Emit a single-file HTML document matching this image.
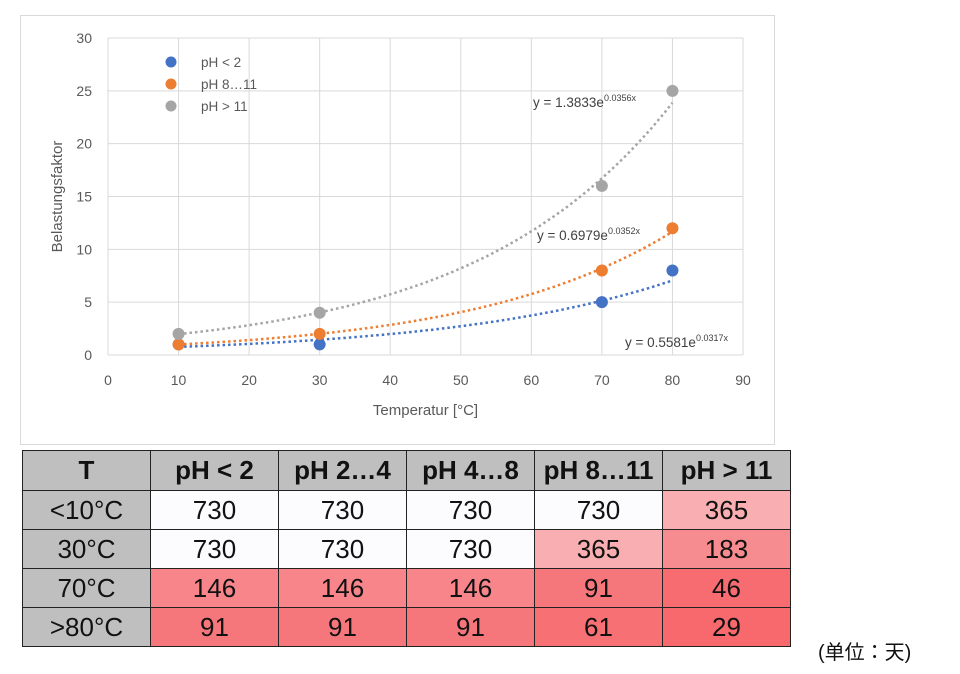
<!DOCTYPE html>
<html><head><meta charset="utf-8"><style>
body{margin:0;width:960px;height:674px;background:#fff;overflow:hidden;font-family:"Liberation Sans","Noto Sans CJK JP",sans-serif;position:relative}
#chart{position:absolute;left:0;top:0}
table{position:absolute;left:22px;top:450px;border-collapse:collapse;font-family:"Liberation Sans Narrow","Liberation Sans",sans-serif}
td{border:1.5px solid #222;width:127px;height:38px;text-align:center;font-size:26px;color:#111;padding:0}
th{border:1.5px solid #222;height:39px;background:#bfbfbf;font-size:26px;font-weight:bold;color:#111;padding:0}
td.h{background:#bfbfbf;width:127px}
#unit{position:absolute;left:818px;top:636px;font-size:20px;color:#111;font-family:"Liberation Sans","Noto Sans CJK JP",sans-serif}
</style></head><body>
<svg id="chart" width="960" height="450"></svg>
<table>
<tr><th>T</th><th>pH &lt; 2</th><th>pH 2…4</th><th>pH 4…8</th><th>pH 8…11</th><th>pH &gt; 11</th></tr>
<tr><td class="h">&lt;10°C</td><td style="background:#fcfcff">730</td><td style="background:#fcfcff">730</td><td style="background:#fcfcff">730</td><td style="background:#fcfcff">730</td><td style="background:#f9aeb1">365</td></tr>
<tr><td class="h">30°C</td><td style="background:#fcfcff">730</td><td style="background:#fcfcff">730</td><td style="background:#fcfcff">730</td><td style="background:#f9aeb1">365</td><td style="background:#f68c8f">183</td></tr>
<tr><td class="h">70°C</td><td style="background:#f7858a">146</td><td style="background:#f7858a">146</td><td style="background:#f7858a">146</td><td style="background:#f6777b">91</td><td style="background:#f66c70">46</td></tr>
<tr><td class="h">&gt;80°C</td><td style="background:#f6777b">91</td><td style="background:#f6777b">91</td><td style="background:#f6777b">91</td><td style="background:#f67074">61</td><td style="background:#f7696c">29</td></tr>
</table>
<div id="unit">(单位：天)</div>
<script>
const xValues=[10,30,70,80];
const seriesNames=["pH < 2","pH 8…11","pH > 11"];
const seriesColors=["#4472c4","#ed7d31","#a5a5a5"];
const phLt2=[1,1,5,8];
const ph8to11=[1,2,8,12];
const phGt11=[2,4,16,25];
const trendA=[0.5581,0.6979,1.3833];
const trendB=[0.0317,0.0352,0.0356];
const xTicks=[0,10,20,30,40,50,60,70,80,90];
const yTicks=[0,5,10,15,20,25,30];
const series=[phLt2,ph8to11,phGt11];
const NS="http://www.w3.org/2000/svg";
const svg=document.getElementById('chart');
const X0=108,X1=743,Y0=355,Y1=38;
const sx=v=>X0+(v-0)/90*(X1-X0);
const sy=v=>Y0-(v-0)/30*(Y0-Y1);
function mk(t,a,p){const e=document.createElementNS(NS,t);for(const k in a)e.setAttribute(k,a[k]);(p||svg).appendChild(e);return e;}
const frame=mk('rect',{x:20.5,y:15.5,width:754,height:429,fill:'#fff',stroke:'#d9d9d9'});


yTicks.forEach(t=>{const l=mk('line',{x1:X0,x2:X1,y1:sy(t),y2:sy(t),stroke:'#d9d9d9','stroke-width':1});


const tx=mk('text',{x:X0-16,y:sy(t)+5,'text-anchor':'end','font-size':14,fill:'#595959'});tx.textContent=t;

});
xTicks.forEach(t=>{const l=mk('line',{x1:sx(t),x2:sx(t),y1:Y1,y2:Y0,stroke:'#d9d9d9','stroke-width':1});


const tx=mk('text',{x:sx(t),y:Y0+30,'text-anchor':'middle','font-size':14,fill:'#595959'});tx.textContent=t;

});
const xt=mk('text',{x:(X0+X1)/2,y:415,'text-anchor':'middle','font-size':15,fill:'#595959'});xt.textContent='Temperatur [°C]';


const yt=mk('text',{x:0,y:0,'text-anchor':'middle','font-size':15,fill:'#595959',transform:`translate(62,${(Y0+Y1)/2}) rotate(-90)`});yt.textContent='Belastungsfaktor';


// trendlines
series.forEach((s,i)=>{let d='';for(let x=xValues[0];x<=xValues[xValues.length-1]+0.001;x+=1){const y=trendA[i]*Math.exp(trendB[i]*x);d+=(d?'L':'M')+sx(x).toFixed(1)+','+sy(y).toFixed(1);}
const p=mk('path',{d,fill:'none',stroke:seriesColors[i],'stroke-width':2.5,'stroke-dasharray':'2.5 3'});

});
series.forEach((s,i)=>s.forEach((v,j)=>{const c=mk('circle',{cx:sx(xValues[j]),cy:sy(v),r:6,fill:seriesColors[i]});

}));
// legend
seriesNames.forEach((n,i)=>{const c=mk('circle',{cx:171,cy:62+i*22,r:5.5,fill:seriesColors[i]});


const t=mk('text',{x:201,y:67+i*22,'font-size':13.5,fill:'#595959'});t.textContent=n;

});
// equations
const eqPos=[[625,347],[537,240],[533,107]];
const eqTxt=['0.0317x','0.0352x','0.0356x'];
trendA.forEach((a,i)=>{const t=mk('text',{x:eqPos[i][0],y:eqPos[i][1],'font-size':13.5,fill:'#404040'});


t.appendChild(document.createTextNode('y = '+a.toFixed(4)+'e'));
const s=mk('tspan',{'font-size':9,dy:-6},t);s.textContent=trendB[i].toFixed(4).replace(/^0/,'0')+'x';});
</script>
</body></html>
